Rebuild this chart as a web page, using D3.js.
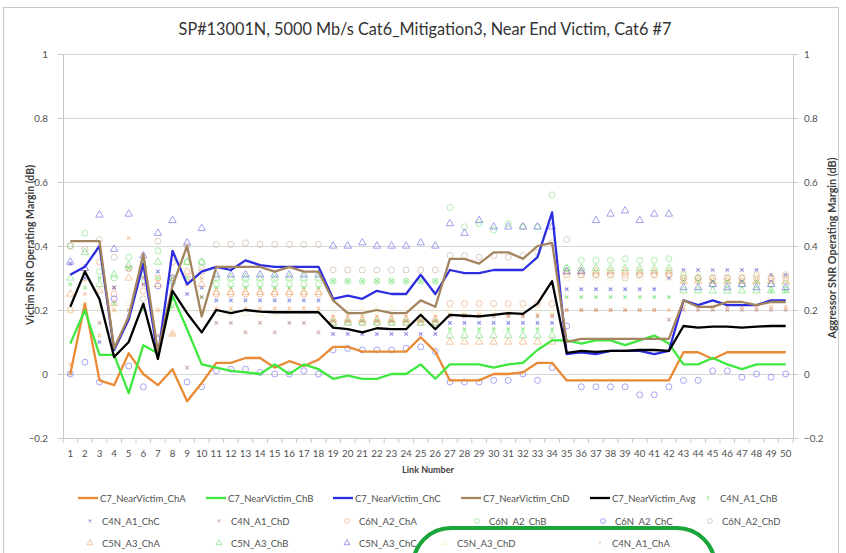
<!DOCTYPE html>
<html><head><meta charset="utf-8">
<script src="https://cdn.jsdelivr.net/npm/d3@7"></script>
<style>body{margin:0;background:#fff;} svg{display:block;font-family:Lato,"Open Sans",sans-serif;}</style>
</head><body><svg id="c" width="846" height="553"></svg>
<script>
const title = "SP#13001N, 5000 Mb/s Cat6_Mitigation3, Near End Victim, Cat6 #7";
const links = d3.range(1, 51);
const yTicks = [-0.2, 0, 0.2, 0.4, 0.6, 0.8, 1];

const lineChA = [0.0,0.22,-0.02,-0.035,0.065,0.0,-0.035,0.015,-0.085,-0.028,0.035,0.035,0.05,0.05,0.02,0.04,0.025,0.045,0.085,0.085,0.07,0.07,0.07,0.07,0.115,0.07,-0.02,-0.02,-0.02,0.0,0.0,0.005,0.035,0.035,-0.02,-0.02,-0.02,-0.02,-0.02,-0.02,-0.02,-0.02,0.068,0.068,0.047,0.068,0.068,0.068,0.068,0.068];
const lineChB = [0.095,0.2,0.06,0.06,-0.06,0.09,0.065,0.245,0.14,0.03,0.02,0.01,0.005,0.0,0.03,0.0,0.03,0.015,-0.015,-0.005,-0.015,-0.015,0.0,0.0,0.03,-0.015,0.03,0.03,0.03,0.02,0.03,0.035,0.075,0.105,0.105,0.095,0.105,0.105,0.09,0.105,0.12,0.095,0.03,0.03,0.05,0.03,0.015,0.03,0.03,0.03];
const lineChC = [0.31,0.335,0.4,0.075,0.17,0.345,0.055,0.385,0.28,0.32,0.335,0.325,0.355,0.34,0.335,0.335,0.335,0.335,0.235,0.245,0.235,0.26,0.25,0.25,0.31,0.25,0.325,0.315,0.315,0.325,0.325,0.325,0.365,0.505,0.062,0.068,0.062,0.072,0.072,0.072,0.062,0.072,0.23,0.215,0.23,0.215,0.215,0.215,0.23,0.23];
const lineChD = [0.415,0.415,0.415,0.08,0.18,0.375,0.07,0.275,0.4,0.18,0.335,0.335,0.335,0.335,0.32,0.335,0.32,0.32,0.23,0.19,0.19,0.2,0.19,0.19,0.23,0.21,0.36,0.36,0.345,0.38,0.38,0.36,0.4,0.41,0.1,0.11,0.11,0.11,0.11,0.11,0.11,0.11,0.23,0.21,0.21,0.225,0.225,0.215,0.225,0.225];
const lineAvg = [0.21,0.32,0.234,0.053,0.1,0.22,0.047,0.26,0.19,0.13,0.2,0.19,0.2,0.195,0.193,0.193,0.193,0.193,0.145,0.14,0.13,0.143,0.14,0.14,0.185,0.14,0.185,0.182,0.18,0.185,0.19,0.188,0.22,0.29,0.066,0.072,0.069,0.072,0.072,0.075,0.075,0.072,0.15,0.145,0.148,0.148,0.145,0.148,0.15,0.15];

const C4N_A1_ChB = [0.28,0.27,0.3,0.22,0.33,0.2,0.3,0.21,0.3,0.24,0.27,0.27,0.27,0.27,0.27,0.27,0.27,0.27,0.29,0.29,0.29,0.29,0.29,0.29,0.29,0.29,0.14,0.14,0.14,0.14,0.14,0.14,0.14,0.14,0.24,0.24,0.24,0.24,0.24,0.24,0.24,0.24,0.29,0.29,0.29,0.29,0.29,0.29,0.26,0.26];
const C4N_A1_ChC = [0.345,0.3,0.1,0.27,0.18,0.28,0.32,0.28,0.25,0.27,0.23,0.23,0.23,0.23,0.23,0.23,0.23,0.23,0.125,0.125,0.125,0.125,0.125,0.125,0.125,0.125,0.16,0.16,0.16,0.16,0.16,0.16,0.16,0.16,0.265,0.265,0.265,0.265,0.265,0.265,0.265,0.3,0.325,0.325,0.325,0.325,0.325,0.325,0.31,0.31];
const C4N_A1_ChD = [0.0,0.32,0.16,0.27,0.2,0.3,0.12,0.3,0.02,0.24,0.16,0.16,0.13,0.16,0.13,0.16,0.16,0.13,0.165,0.165,0.165,0.165,0.165,0.165,0.165,0.165,0.18,0.18,0.18,0.18,0.18,0.18,0.18,0.18,0.2,0.2,0.2,0.2,0.2,0.2,0.2,0.17,0.2,0.2,0.2,0.2,0.2,0.2,0.2,0.2];
const C4N_A1_ChA = [0.03,0.25,0.12,0.2,0.425,0.28,0.2,0.125,0.28,0.3,0.205,0.205,0.205,0.205,0.205,0.205,0.205,0.205,0.18,0.18,0.18,0.18,0.18,0.18,0.18,0.18,0.185,0.185,0.185,0.185,0.185,0.185,0.185,0.185,0.2,0.2,0.2,0.2,0.2,0.2,0.2,0.2,0.21,0.21,0.21,0.21,0.21,0.21,0.21,0.21];
const C6N_A2_ChA = [0.2,0.3,0.35,0.25,0.33,0.26,0.3,0.35,0.3,0.32,0.25,0.25,0.25,0.25,0.25,0.25,0.25,0.25,0.16,0.16,0.16,0.16,0.16,0.16,0.16,0.16,0.22,0.22,0.22,0.22,0.22,0.22,0.22,0.22,0.31,0.31,0.31,0.31,0.31,0.31,0.31,0.31,0.3,0.3,0.3,0.3,0.3,0.3,0.3,0.3];
const C6N_A2_ChB = [0.4,0.44,0.32,0.3,0.365,0.3,0.385,0.3,0.35,0.35,0.28,0.28,0.28,0.28,0.28,0.28,0.28,0.28,0.29,0.29,0.29,0.29,0.29,0.29,0.29,0.29,0.52,0.46,0.47,0.45,0.47,0.46,0.46,0.56,0.33,0.355,0.355,0.355,0.36,0.355,0.355,0.36,0.31,0.3,0.28,0.28,0.28,0.28,0.28,0.28];
const C6N_A2_ChC = [0.0,0.037,-0.025,0.235,0.025,-0.04,0.275,0.3,-0.025,-0.04,0.01,0.015,0.015,0.005,0.0,0.0,0.01,0.0,0.075,0.08,0.075,0.075,0.075,0.08,0.085,0.07,-0.025,-0.025,-0.025,-0.02,-0.02,0.0,-0.02,0.02,0.15,-0.04,-0.04,-0.04,-0.04,-0.065,-0.065,-0.04,-0.02,-0.02,0.01,0.01,-0.01,0.0,-0.01,0.0];
const C6N_A2_ChD = [0.4,0.39,0.42,0.365,0.33,0.235,0.415,0.3,0.4,0.33,0.405,0.405,0.41,0.405,0.405,0.405,0.405,0.405,0.325,0.325,0.325,0.325,0.325,0.325,0.325,0.325,0.37,0.37,0.365,0.37,0.365,0.37,0.38,0.41,0.42,0.31,0.31,0.31,0.3,0.31,0.31,0.31,0.3,0.3,0.3,0.3,0.3,0.31,0.3,0.31];
const C5N_A3_ChA = [0.25,0.33,0.26,0.22,0.3,0.31,0.28,0.125,0.32,0.28,0.255,0.255,0.255,0.255,0.255,0.255,0.255,0.255,0.17,0.17,0.17,0.17,0.17,0.17,0.17,0.17,0.1,0.1,0.1,0.1,0.1,0.1,0.1,0.1,0.32,0.32,0.32,0.32,0.32,0.32,0.32,0.32,0.29,0.29,0.29,0.29,0.29,0.29,0.29,0.29];
const C5N_A3_ChB = [0.3,0.38,0.28,0.31,0.34,0.34,0.35,0.29,0.35,0.35,0.3,0.3,0.3,0.3,0.3,0.3,0.3,0.3,0.16,0.16,0.16,0.16,0.16,0.16,0.16,0.16,0.12,0.12,0.12,0.12,0.12,0.12,0.12,0.12,0.33,0.33,0.33,0.33,0.33,0.33,0.33,0.33,0.26,0.26,0.26,0.26,0.26,0.26,0.26,0.26];
const C5N_A3_ChC = [0.35,0.33,0.497,0.39,0.5,0.37,0.44,0.48,0.41,0.455,0.31,0.31,0.31,0.31,0.31,0.31,0.31,0.31,0.4,0.4,0.41,0.4,0.4,0.4,0.41,0.4,0.47,0.44,0.48,0.46,0.46,0.46,0.46,0.46,0.32,0.32,0.48,0.5,0.51,0.48,0.5,0.5,0.27,0.27,0.28,0.27,0.28,0.27,0.28,0.27];
const C5N_A3_ChD = [0.2,0.22,0.2,0.2,0.22,0.2,0.2,0.21,0.2,0.2,0.19,0.19,0.19,0.19,0.19,0.19,0.19,0.19,0.2,0.2,0.2,0.2,0.2,0.2,0.2,0.2,0.2,0.2,0.2,0.2,0.2,0.2,0.2,0.2,0.3,0.3,0.3,0.3,0.3,0.3,0.3,0.3,0.31,0.31,0.31,0.31,0.31,0.31,0.31,0.31];

const lineSeries = [
  {name:"C7_NearVictim_ChA", values:lineChA, color:"#ea8a35"},
  {name:"C7_NearVictim_ChB", values:lineChB, color:"#3ee83e"},
  {name:"C7_NearVictim_ChC", values:lineChC, color:"#2c2ce0"},
  {name:"C7_NearVictim_ChD", values:lineChD, color:"#a3845e"},
  {name:"C7_NearVictim_Avg", values:lineAvg, color:"#000000"}
];
const pointSeries = [
  {name:"C4N_A1_ChB", values:C4N_A1_ChB, color:"#55dd55", shape:"x"},
  {name:"C4N_A1_ChC", values:C4N_A1_ChC, color:"#4444dd", shape:"x"},
  {name:"C4N_A1_ChD", values:C4N_A1_ChD, color:"#b07870", shape:"x"},
  {name:"C6N_A2_ChA", values:C6N_A2_ChA, color:"#f0a070", shape:"o"},
  {name:"C6N_A2_ChB", values:C6N_A2_ChB, color:"#77e077", shape:"o"},
  {name:"C6N_A2_ChC", values:C6N_A2_ChC, color:"#6666ee", shape:"o"},
  {name:"C6N_A2_ChD", values:C6N_A2_ChD, color:"#c0ab95", shape:"o"},
  {name:"C5N_A3_ChA", values:C5N_A3_ChA, color:"#f0a060", shape:"t"},
  {name:"C5N_A3_ChB", values:C5N_A3_ChB, color:"#66dd66", shape:"t"},
  {name:"C5N_A3_ChC", values:C5N_A3_ChC, color:"#6060e0", shape:"t"},
  {name:"C5N_A3_ChD", values:C5N_A3_ChD, color:"#f4ecc0", shape:"t"},
  {name:"C4N_A1_ChA", values:C4N_A1_ChA, color:"#f0a060", shape:"x"}
];

const svg = d3.select("#c");
const L = 63, R = 793, T = 54, B = 438;
const x = d3.scaleBand().domain(links).range([L, R]);
const y = d3.scaleLinear().domain([-0.2, 1]).range([B, T]);

svg.append("rect").attr("x",3.5).attr("y",7.5).attr("width",835).attr("height",560)
  .attr("fill","none").attr("stroke","#c8c8c8").attr("stroke-width",1);

svg.append("text").attr("x",425).attr("y",35).attr("text-anchor","middle")
  .attr("font-size",16.3).attr("fill","#333").attr("font-family","Lato").text(title);

svg.append("g").selectAll("line").data(yTicks.filter(d=>d>-0.2)).join("line")
  .attr("x1",L).attr("x2",R).attr("y1",d=>y(d)+0.5).attr("y2",d=>y(d)+0.5)
  .attr("stroke","#d8d8d8").attr("stroke-width",1.2);

const fmt = d => d===0 ? "0" : d===1 ? "1" : d3.format(".1f")(d);
const la = svg.append("g").attr("transform",`translate(${L},0)`).call(d3.axisLeft(y).tickValues(yTicks).tickFormat(fmt).tickSize(5).tickPadding(10));
const ra = svg.append("g").attr("transform",`translate(${R},0)`).call(d3.axisRight(y).tickValues(yTicks).tickFormat(fmt).tickSize(5).tickPadding(6));
const xa = svg.append("g").attr("transform",`translate(0,${B})`).call(d3.axisBottom(x).tickSize(0).tickPadding(12));
svg.append("g").selectAll("line").data(d3.range(0,51)).join("line")
  .attr("x1",i=>L+i*x.step()).attr("x2",i=>L+i*x.step()).attr("y1",B).attr("y2",B+5)
  .attr("stroke","#c8c8c8");
[la,ra,xa].forEach(g=>{
  g.selectAll("path").attr("stroke","#c8c8c8");
  g.selectAll(".tick line").attr("stroke","#c8c8c8");
  g.selectAll("text").attr("fill","#505050").attr("font-size",9.8).attr("font-family","Lato");
});

svg.append("text").attr("transform",`translate(34,245) rotate(-90)`).attr("text-anchor","middle")
  .attr("font-size",10.5).attr("font-weight","bold").attr("fill","#404040").text("Victim SNR Operating Margin (dB)");
svg.append("text").attr("transform",`translate(836,248) rotate(-90)`).attr("text-anchor","middle")
  .attr("font-size",10.8).attr("font-weight","bold").attr("fill","#404040").text("Aggressor SNR Operating Margin (dB)");
svg.append("text").attr("x",428).attr("y",473).attr("text-anchor","middle")
  .attr("font-size",9).attr("font-weight","bold").attr("fill","#404040").text("Link Number");

function marker(g, shape, color, s){
  if(shape==="o") g.append("circle").attr("r",3*s).attr("fill","none").attr("stroke",color).attr("stroke-width",1);
  else if(shape==="t") g.append("path").attr("d",d3.symbol(d3.symbolTriangle, 24*s*s)()).attr("fill","none").attr("stroke",color).attr("stroke-width",1);
  else g.append("path").attr("d",`M${-1.7*s},${-1.7*s}L${1.7*s},${1.7*s}M${-1.7*s},${1.7*s}L${1.7*s},${-1.7*s}`).attr("stroke",color).attr("stroke-width",1.1);
}
const cx = d => x(d)+x.bandwidth()/2;
pointSeries.forEach(ps=>{
  const g = svg.append("g").attr("opacity",0.6);
  ps.values.forEach((v,i)=>{
    const m = g.append("g").attr("transform",`translate(${cx(links[i])},${y(v)})`);
    marker(m, ps.shape, ps.color, 1);
  });
});

const line = d3.line().x((d,i)=>cx(links[i])).y(d=>y(d));
lineSeries.forEach(s=>{
  svg.append("path").datum(s.values).attr("d",line).attr("fill","none")
    .attr("stroke",s.color).attr("stroke-width",2.3).attr("stroke-linejoin","round");
});

const legendItems = [
  ...lineSeries.map(s=>({name:s.name,color:s.color,type:"line"})),
  ...pointSeries.map(s=>({name:s.name,color:s.color,type:s.shape}))
];
const legendPos = [[78,498],[206,498],[333,498],[461,498],[590,498],[708,498],
  [90,521],[219,521],[347,521],[477,521],[603,521],[710,521],
  [90,543],[219,543],[347,543],[445,543],[600,543]];
const lg = svg.append("g");
legendItems.forEach((it,i)=>{
  const [lx,ly] = legendPos[i];
  const g = lg.append("g").attr("transform",`translate(${lx},${ly})`);
  let tx;
  if(it.type==="line"){
    g.append("line").attr("x1",0).attr("x2",20).attr("y1",0).attr("y2",0).attr("stroke",it.color).attr("stroke-width",2.3);
    tx = 22;
  } else {
    const m = g.append("g").attr("opacity",0.6); marker(m,it.type,it.color,0.8); tx = 12;
  }
  g.append("text").attr("x",tx).attr("y",3.5).attr("font-size",9.5).attr("fill","#505050").text(it.name);
});

svg.append("rect").attr("x",413).attr("y",528).attr("width",302).attr("height",90).attr("rx",38).attr("ry",38)
  .attr("fill","none").attr("stroke","#1aa53a").attr("stroke-width",4);
</script></body></html>
